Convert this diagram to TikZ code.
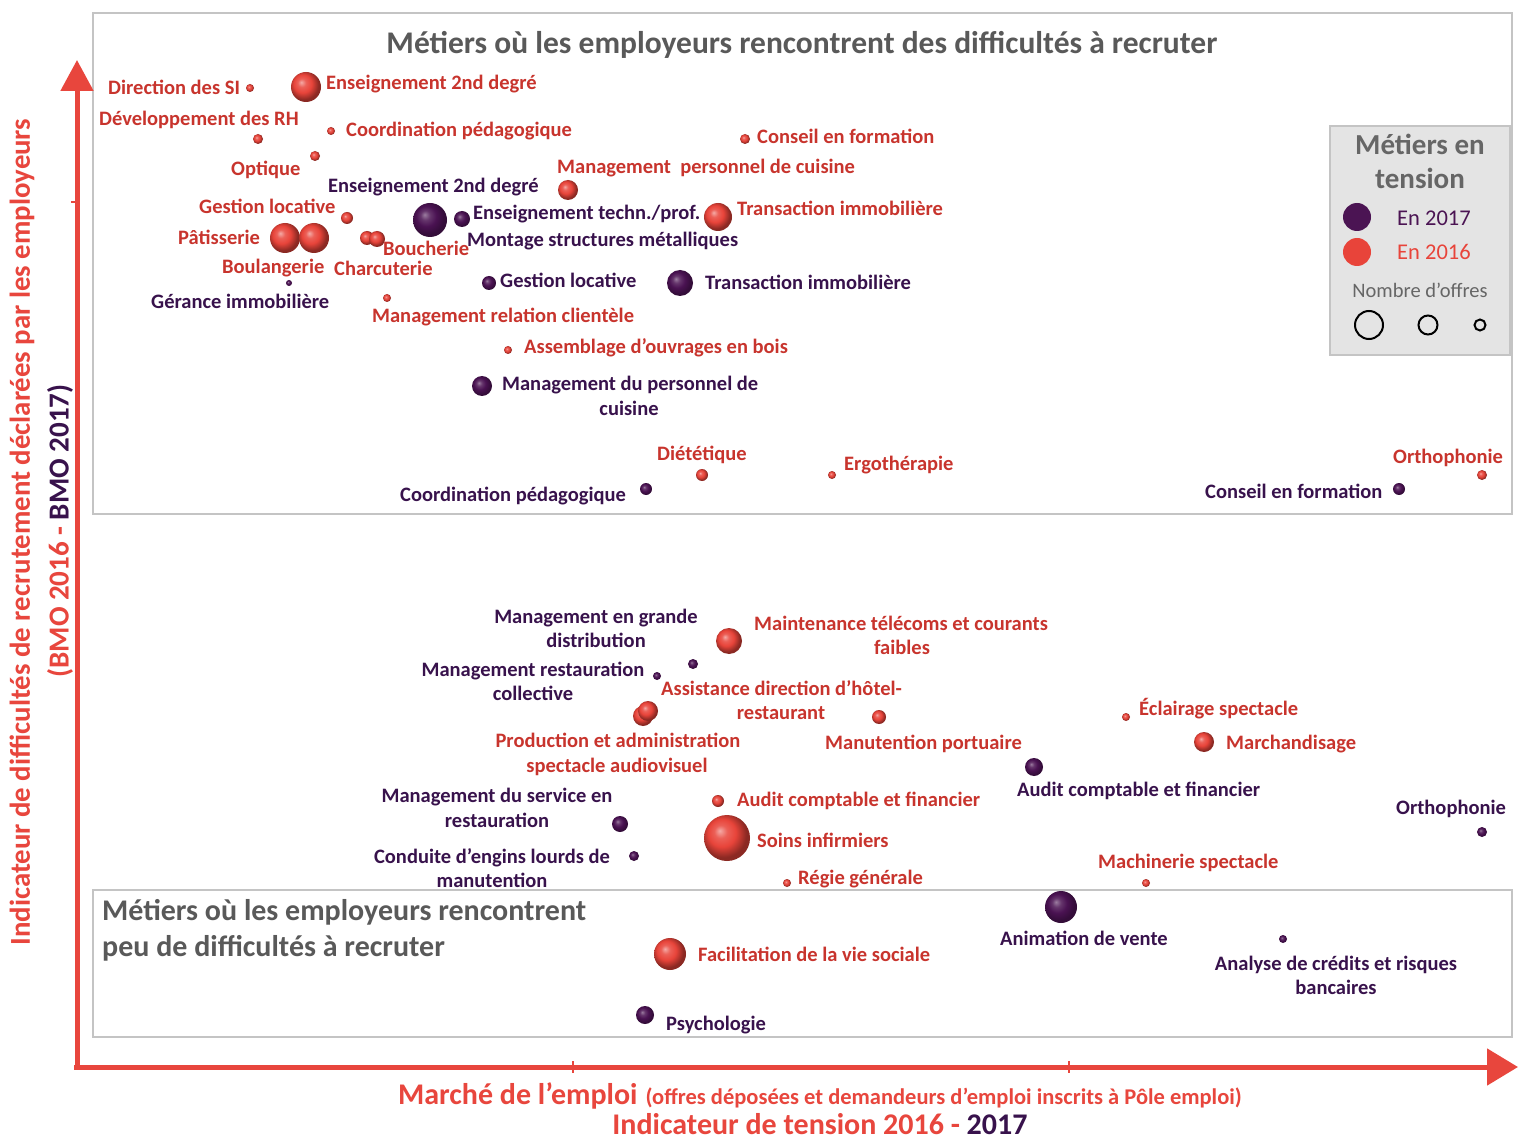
\documentclass[tikz,border=0pt]{standalone}
\usepackage{fontspec}
\setmainfont{Carlito}
\usetikzlibrary{arrows.meta}
\definecolor{axred}{HTML}{E8463D}
\definecolor{lred}{HTML}{C8342D}
\definecolor{lpur}{HTML}{38124C}
\definecolor{bred}{HTML}{E8443A}
\definecolor{bpur}{HTML}{4A1252}
\definecolor{tgray}{HTML}{595959}
\definecolor{lgray}{HTML}{666666}
\definecolor{boxgray}{HTML}{C4C4C4}
\definecolor{legfill}{HTML}{E4E4E4}
\definecolor{legpur}{HTML}{4B1453}
\pgfdeclareradialshading{redball}{\pgfpoint{-8bp}{8bp}}{color(0bp)=(bred!45!white); color(7bp)=(bred!85!white); color(15bp)=(bred); color(25bp)=(bred!60!black); color(50bp)=(bred!60!black)}
\pgfdeclareradialshading{purball}{\pgfpoint{-8bp}{8bp}}{color(0bp)=(bpur!55!white); color(7bp)=(bpur!85!white); color(15bp)=(bpur); color(25bp)=(bpur!70!black); color(50bp)=(bpur!70!black)}
\tikzset{
  rb/.style={circle, inner sep=0pt, shading=redball, minimum size=#1},
  pb/.style={circle, inner sep=0pt, shading=purball, minimum size=#1},
  lab/.style={inner sep=0pt, font=\bfseries\fontsize{20.5}{24}\selectfont},
  lr/.style={lab, text=lred, anchor=base west},
  lp/.style={lab, text=lpur, anchor=base west},
  lrc/.style={lab, text=lred, anchor=base},
  lpc/.style={lab, text=lpur, anchor=base},
  frame/.style={draw=boxgray, line width=2pt, fill=white},
  axis/.style={draw=axred, line width=5pt},
  bigt/.style={inner sep=0pt, text=tgray, font=\bfseries\fontsize{30}{36}\selectfont},
}
\begin{document}
\begin{tikzpicture}[x=1pt,y=-1pt]
\useasboundingbox[fill=white] (0,0) rectangle (1518,1139);
% frames
\path[frame] (93,13) rectangle (1512,514);
\path[frame] (93,890) rectangle (1512,1037);
\node[bigt, font=\bfseries\fontsize{31.5}{36}\selectfont, anchor=base] (title) at (802,54) {Métiers où les employeurs rencontrent des difficultés à recruter};
\node[bigt, anchor=base west] (lowtitle) at (102,920) {Métiers où les employeurs rencontrent};
\node[bigt, anchor=base west] (lowtitleb) at (102,956) {peu de difficultés à recruter};

% legend
\path[draw=boxgray, line width=2pt, fill=legfill] (1330,126) rectangle (1510,355);
\node[inner sep=0pt, anchor=base, text=lgray, font=\bfseries\fontsize{29}{34}\selectfont] (legt) at (1420,155) {Métiers en};
\node[inner sep=0pt, anchor=base, text=lgray, font=\bfseries\fontsize{29}{34}\selectfont] (legtb) at (1420,189) {tension};
\node[circle, inner sep=0pt, minimum size=28pt, fill=legpur] (leg17) at (1357,217) {};
\node[circle, inner sep=0pt, minimum size=28pt, fill=bred] (leg16) at (1357,252) {};
\node[inner sep=0pt, anchor=base west, text=legpur, font=\fontsize{22.5}{26}\selectfont] (leg17t) at (1397,226) {En 2017};
\node[inner sep=0pt, anchor=base west, text=bred, font=\fontsize{22.5}{26}\selectfont] (leg16t) at (1397,260) {En 2016};
\node[inner sep=0pt, anchor=base, text=lgray, font=\fontsize{20.5}{24}\selectfont] (legn) at (1420,298) {Nombre d’offres};
\node[circle, draw=black, line width=2pt, inner sep=0pt, minimum size=28pt] (lc1) at (1369,325) {};
\node[circle, draw=black, line width=2pt, inner sep=0pt, minimum size=19pt] (lc2) at (1428,325) {};
\node[circle, draw=black, line width=2pt, inner sep=0pt, minimum size=11pt] (lc3) at (1480,325) {};

% axes
\coordinate (org) at (74,1067);
\coordinate (xend) at (1518,1067);
\coordinate (yorg) at (77,1069);
\coordinate (yend) at (77,60);
\draw[axis, -{Triangle[length=31pt,width=36pt]}] (org) -- (xend);
\draw[axis, -{Triangle[length=31pt,width=32pt]}] (yorg) -- (yend);
\coordinate (tx1) at (573,1061); \coordinate (tx1b) at (573,1073);
\coordinate (tx2) at (1069,1061); \coordinate (tx2b) at (1069,1073);
\coordinate (ty1) at (71,202); \coordinate (ty1b) at (79,202);
\draw[axred, line width=2.5pt] (tx1) -- (tx1b);
\draw[axred, line width=2.5pt] (tx2) -- (tx2b);
\draw[axred, line width=2.5pt] (ty1) -- (ty1b);

\node[rotate=90, inner sep=0pt, text=axred, font=\bfseries\fontsize{28.8}{32}\selectfont] (ylab) at (22,532) {Indicateur de difficultés de recrutement déclarées par les employeurs};
\node[rotate=90, inner sep=0pt, text=axred, font=\bfseries\fontsize{29}{32}\selectfont] (ylab2) at (60,531) {(BMO 2016 - \textcolor{lpur}{BMO 2017)}};
\node[inner sep=0pt, anchor=base, text=axred, font=\bfseries] (xlab) at (820,1104) {{\fontsize{30}{32}\selectfont Marché de l'emploi}\hspace{8pt}{\fontsize{22.5}{24}\selectfont (offres déposées et demandeurs d'emploi inscrits à Pôle emploi)}};
\node[inner sep=0pt, anchor=base, text=axred, font=\bfseries\fontsize{30}{32}\selectfont] (xlab2) at (820,1134) {Indicateur de tension 2016 - \textcolor{lpur}{2017}};

% bubbles 2016 (red)
\node[rb=8pt] (r1) at (250,88) {};
\node[rb=30pt] (r2) at (306,87) {};
\node[rb=10pt] (r3) at (258,139) {};
\node[rb=8pt] (r4) at (331,131) {};
\node[rb=10pt] (r5) at (315,156) {};
\node[rb=12pt] (r6) at (347,218) {};
\node[rb=30pt] (r7) at (285,238) {};
\node[rb=30pt] (r8) at (314,238) {};
\node[rb=14pt] (r9) at (367,238) {};
\node[rb=16pt] (r10) at (377,239) {};
\node[rb=8pt] (r11) at (387,298) {};
\node[rb=20pt] (r12) at (568,190) {};
\node[rb=10pt] (r13) at (745,139) {};
\node[rb=28pt] (r14) at (718,217) {};
\node[rb=8pt] (r15) at (508,350) {};
\node[rb=12pt] (r16) at (702,475) {};
\node[rb=8pt] (r17) at (832,475) {};
\node[rb=10pt] (r18) at (1482,475) {};
\node[rb=26pt] (r19) at (729,641) {};
\node[rb=20pt] (r20) at (643,716) {};
\node[rb=20pt] (r21) at (648,711) {};
\node[rb=14pt] (r22) at (879,717) {};
\node[rb=8pt] (r23) at (1126,717) {};
\node[rb=20pt] (r24) at (1204,742) {};
\node[rb=12pt] (r25) at (718,801) {};
\node[rb=46pt] (r26) at (727,838) {};
\node[rb=8pt] (r27) at (787,883) {};
\node[rb=8pt] (r28) at (1146,883) {};
\node[rb=32pt] (r29) at (670,954) {};

% bubbles 2017 (purple)
\node[pb=34pt] (p1) at (430,220) {};
\node[pb=16pt] (p2) at (462,219) {};
\node[pb=6pt] (p3) at (289,283) {};
\node[pb=14pt] (p4) at (489,283) {};
\node[pb=26pt] (p5) at (680,283) {};
\node[pb=20pt] (p6) at (482,386) {};
\node[pb=12pt] (p7) at (646,489) {};
\node[pb=12pt] (p8) at (1399,489) {};
\node[pb=10pt] (p9) at (693,664) {};
\node[pb=8pt] (p10) at (657,676) {};
\node[pb=18pt] (p11) at (1034,767) {};
\node[pb=16pt] (p12) at (620,824) {};
\node[pb=10pt] (p13) at (634,856) {};
\node[pb=10pt] (p14) at (1482,832) {};
\node[pb=32pt] (p15) at (1061,907) {};
\node[pb=8pt] (p16) at (1283,939) {};
\node[pb=18pt] (p17) at (645,1015) {};

% labels upper area
\node[lr] (a1) at (108,95) {Direction des SI};
\node[lr] (a2) at (326,90) {Enseignement 2nd degré};
\node[lr] (a3) at (99,126) {Développement des RH};
\node[lr] (a4) at (346,137) {Coordination pédagogique};
\node[lr] (a5) at (231,176) {Optique};
\node[lp] (a6) at (328,193) {Enseignement 2nd degré};
\node[lr] (a7) at (199,214) {Gestion locative};
\node[lr] (a8) at (178,245) {Pâtisserie};
\node[lr] (a9) at (222,274) {Boulangerie};
\node[lr] (a10) at (383,256) {Boucherie};
\node[lr] (a11) at (334,276) {Charcuterie};
\node[lp] (a12) at (151,309) {Gérance immobilière};
\node[lr] (a13) at (372,323) {Management relation clientèle};
\node[lp] (a14) at (473,220) {Enseignement techn./prof.};
\node[lp] (a15) at (467,247) {Montage structures métalliques};
\node[lr] (a16) at (557,174) {Management\ \ personnel de cuisine};
\node[lr] (a17) at (757,144) {Conseil en formation};
\node[lr] (a18) at (737,216) {Transaction immobilière};
\node[lp] (a19) at (500,288) {Gestion locative};
\node[lp] (a20) at (705,290) {Transaction immobilière};
\node[lr] (a21) at (524,354) {Assemblage d'ouvrages en bois};
\node[lp] (a22) at (502,391) {Management du personnel de};
\node[lpc] (a22b) at (629,415) {cuisine};
\node[lr] (a23) at (657,460) {Diététique};
\node[lr] (a24) at (844,470) {Ergothérapie};
\node[lp] (a25) at (400,501) {Coordination pédagogique};
\node[lr] (a26) at (1393,463) {Orthophonie};
\node[lp] (a27) at (1205,498) {Conseil en formation};

% labels middle / lower area
\node[lr] (b1) at (754,630) {Maintenance télécoms et courants};
\node[lrc] (b1b) at (902,654) {faibles};
\node[lpc] (b2) at (596,623) {Management en grande};
\node[lpc] (b2b) at (596,647) {distribution};
\node[lpc] (b3) at (533,676) {Management restauration};
\node[lpc] (b3b) at (533,700) {collective};
\node[lr] (b4) at (661,695) {Assistance direction d'hôtel-};
\node[lrc] (b4b) at (781,719) {restaurant};
\node[lrc] (b5) at (618,747) {Production et administration};
\node[lrc] (b5b) at (617,772) {spectacle audiovisuel};
\node[lr] (b6) at (825,749) {Manutention portuaire};
\node[lr] (b7) at (1139,715) {Éclairage spectacle};
\node[lr] (b8) at (1226,749) {Marchandisage};
\node[lp] (b9) at (1017,796) {Audit comptable et financier};
\node[lr] (b10) at (737,806) {Audit comptable et financier};
\node[lr] (b11) at (757,847) {Soins infirmiers};
\node[lpc] (b12) at (497,802) {Management du service en};
\node[lpc] (b12b) at (497,827) {restauration};
\node[lpc] (b13) at (492,863) {Conduite d'engins lourds de};
\node[lpc] (b13b) at (492,887) {manutention};
\node[lr] (b14) at (798,884) {Régie générale};
\node[lp] (b15) at (1396,814) {Orthophonie};
\node[lr] (b16) at (1098,868) {Machinerie spectacle};
\node[lp] (b17) at (1000,945) {Animation de vente};
\node[lpc] (b18) at (1336,970) {Analyse de crédits et risques};
\node[lpc] (b18b) at (1336,994) {bancaires};
\node[lr] (b19) at (698,961) {Facilitation de la vie sociale};
\node[lp] (b20) at (666,1030) {Psychologie};
\end{tikzpicture}
\end{document}
